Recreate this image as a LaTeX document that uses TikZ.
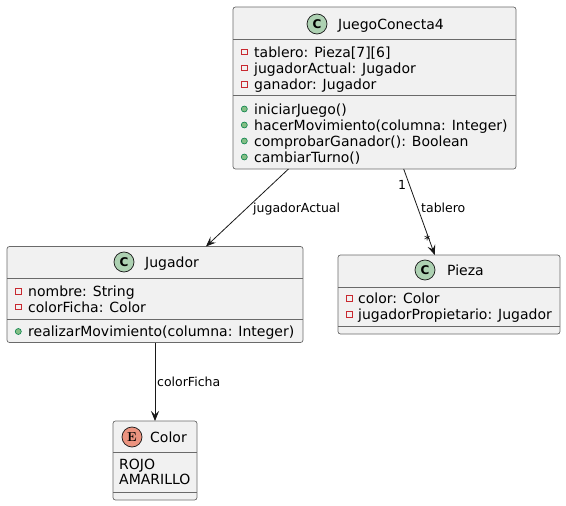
\documentclass[tikz,border=0pt]{standalone}
\usepackage{fontspec}
\setmainfont{DejaVu Sans}
\newfontfamily\serifbold{Latin Modern Roman}
\usetikzlibrary{arrows.meta}
\definecolor{boxfill}{HTML}{F1F1F1}
\definecolor{boxline}{HTML}{6A6A6A}
\definecolor{ink}{HTML}{181818}
\definecolor{cgreen}{HTML}{ADD1B2}
\definecolor{ered}{HTML}{EB937F}
\definecolor{privred}{HTML}{C82930}
\definecolor{pubgreen}{HTML}{84BE84}
\definecolor{publine}{HTML}{038048}
\tikzset{
  classbox/.style={draw=boxline, fill=boxfill, line width=0.7pt, rounded corners=2.5pt, inner sep=0pt, outer sep=0pt},
  sepline/.style={draw=boxline, line width=0.7pt},
  member/.style={anchor=base west, inner sep=0pt, font=\fontsize{14}{16}\selectfont, text=black},
  ctitle/.style={anchor=base west, inner sep=0pt, font=\fontsize{14}{16}\selectfont, text=black},
  badge/.style={circle, draw=ink, line width=0.7pt, minimum size=20pt, inner sep=0pt, font=\fontsize{12}{12}\selectfont\bfseries},
  privmark/.style={draw=privred, line width=0.7pt, minimum size=5.5pt, inner sep=0pt},
  pubmark/.style={circle, draw=publine, fill=pubgreen, line width=0.6pt, minimum size=6pt, inner sep=0pt},
  assoc/.style={draw=ink, line width=0.8pt, -{Stealth[length=10pt,width=8pt,inset=4pt]}},
  lbl/.style={anchor=base west, inner sep=0pt, font=\fontsize{12.5}{14}\selectfont, text=black}
}
\begin{document}
\begin{tikzpicture}[x=1pt,y=-1pt]
\useasboundingbox (0,0) rectangle (566,506);

% ---------- JuegoConecta4 ----------
\node[classbox, minimum width=283pt, minimum height=162pt] (juego) at (374.5,88) {};
\draw[sepline] (233,39) -- (516,39);
\draw[sepline] (233,95) -- (516,95);
\node[badge, fill=cgreen] (juegoC) at (317,24) {C};
\node[ctitle] (juegoT) at (338,29) {JuegoConecta4};
\node[privmark] (jm1) at (244.3,52) {};
\node[member] (ja1) at (254,57) {tablero: Pieza[7][6]};
\node[privmark] (jm2) at (244.3,68) {};
\node[member] (ja2) at (254,73) {jugadorActual: Jugador};
\node[privmark] (jm3) at (244.3,84.5) {};
\node[member] (ja3) at (254,89.5) {ganador: Jugador};
\node[pubmark] (jp1) at (244.3,109) {};
\node[member] (jo1) at (254,114) {iniciarJuego()};
\node[pubmark] (jp2) at (244.3,125) {};
\node[member] (jo2) at (254,130) {hacerMovimiento(columna: Integer)};
\node[pubmark] (jp3) at (244.3,141) {};
\node[member] (jo3) at (254,146) {comprobarGanador(): Boolean};
\node[pubmark] (jp4) at (244.3,157) {};
\node[member] (jo4) at (254,162) {cambiarTurno()};

% ---------- Jugador ----------
\node[classbox, minimum width=296pt, minimum height=96pt] (jugador) at (155,294.5) {};
\draw[sepline] (7,278) -- (303,278);
\draw[sepline] (7,319) -- (303,319);
\node[badge, fill=cgreen] (jugC) at (124,262) {C};
\node[ctitle] (jugT) at (145,267) {Jugador};
\node[privmark] (gm1) at (18.3,291.5) {};
\node[member] (ga1) at (28,296.5) {nombre: String};
\node[privmark] (gm2) at (18.3,307) {};
\node[member] (ga2) at (28,312) {colorFicha: Color};
\node[pubmark] (gp1) at (18.3,331.5) {};
\node[member] (go1) at (28,336.5) {realizarMovimiento(columna: Integer)};

% ---------- Pieza ----------
\node[classbox, minimum width=222pt, minimum height=79pt] (pieza) at (449,294.5) {};
\draw[sepline] (338,287) -- (560,287);
\draw[sepline] (338,326) -- (560,326);
\node[badge, fill=cgreen] (piezaC) at (425,270) {C};
\node[ctitle] (piezaT) at (447,275) {Pieza};
\node[privmark] (pm1) at (349.3,298.5) {};
\node[member] (pa1) at (358,303.5) {color: Color};
\node[privmark] (pm2) at (349.3,314.5) {};
\node[member] (pa2) at (358,319.5) {jugadorPropietario: Jugador};

% ---------- Color ----------
\node[classbox, minimum width=84pt, minimum height=79pt] (color) at (155,460.5) {};
\draw[sepline] (113,452) -- (197,452);
\draw[sepline] (113,492) -- (197,492);
\node[badge, fill=ered, font=\fontsize{13}{13}\selectfont\serifbold\bfseries] (colorE) at (132,437) {E};
\node[ctitle] (colorT) at (150,442) {Color};
\node[member] (c1) at (119,469) {ROJO};
\node[member] (c2) at (119,484) {AMARILLO};

% ---------- connectors ----------
\draw[assoc] (juego) -- (jugador);
\draw[assoc] (juego) -- (pieza);
\draw[assoc] (jugador) -- (color);

\node[lbl] (l1) at (253,212.5) {jugadorActual};
\node[lbl] (l2) at (398,189.5) {1};
\node[lbl] (l3) at (421,212.5) {tablero};
\node[lbl] (l4) at (424,244) {*};
\node[lbl] (l5) at (157,386.5) {colorFicha};
\end{tikzpicture}
\end{document}
